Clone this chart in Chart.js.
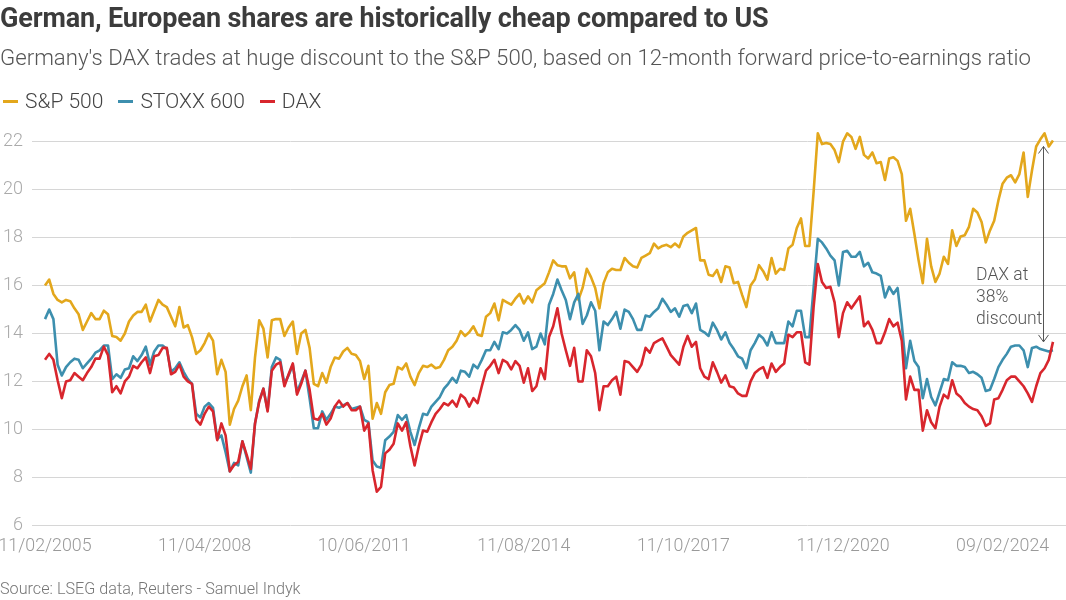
<!DOCTYPE html>
<html>
<head>
<meta charset="utf-8">
<title>German, European shares are historically cheap compared to US</title>
<script src="https://cdn.jsdelivr.net/npm/chart.js@4.4.1/dist/chart.umd.min.js"></script>
<style>
  body { margin: 0; background: #fff; font-family: Roboto, "Noto Sans", sans-serif; }
  #wrap { position: relative; width: 1066px; height: 600px; overflow: hidden; }
  #chartBox { position: absolute; left: 0; top: 0; width: 1066px; height: 600px; }
  .txt { position: absolute; left: 0; white-space: nowrap; }
  #title { top: 3px; font-size: 27px; line-height: 30px; font-weight: 700; color: #3c3c3c; letter-spacing: -0.15px; }
  #subtitle { top: 44px; font-size: 22.2px; line-height: 26px; font-weight: 300; color: #555; }
  #legend { top: 89px; left: 3px; font-size: 21px; line-height: 24px; font-weight: 300; color: #444; display: flex; align-items: center; }
  .item { display: flex; align-items: center; margin-right: 15px; }
  .mark { width: 15px; height: 3px; margin-right: 7px; }
  #source { top: 579px; font-size: 16.2px; line-height: 20px; font-weight: 300; color: #777; }
</style>
</head>
<body>
<div id="wrap">
  <div id="chartBox"><canvas id="peChart"></canvas></div>
  <div class="txt" id="title">German, European shares are historically cheap compared to US</div>
  <div class="txt" id="subtitle">Germany's DAX trades at huge discount to the S&amp;P 500, based on 12-month forward price-to-earnings ratio</div>
  <div class="txt" id="legend"></div>
  <div class="txt" id="source">Source: LSEG data, Reuters - Samuel Indyk</div>
</div>
<script>
// 12-month forward P/E, monthly, Feb 2005 - Feb 2025
const spx = [
  16.0, 16.25, 15.65, 15.4, 15.3, 15.4, 15.35, 15.05, 14.8, 14.15,
  14.5, 14.85, 14.6, 14.6, 14.95, 14.8, 13.9, 13.85, 13.7, 14.0,
  14.5, 14.75, 14.9, 14.9, 15.2, 14.5, 14.95, 15.4, 15.2, 15.1,
  14.7, 14.3, 15.1, 14.25, 14.35, 13.85, 13.15, 13.3, 13.6, 14.0,
  13.7, 12.3, 12.9, 12.4, 10.2, 10.85, 11.2, 11.8, 12.25, 10.8,
  13.0, 14.55, 14.2, 13.0, 14.55, 14.6, 14.6, 13.9, 14.25, 14.5,
  13.15, 14.0, 14.15, 13.4, 11.9, 11.8, 12.35, 11.95, 12.6, 13.0,
  12.95, 13.25, 13.4, 13.15, 13.1, 12.85, 12.1, 12.65, 10.45, 11.1,
  10.65, 11.55, 11.85, 11.9, 12.6, 12.5, 12.75, 12.2, 11.85, 12.35,
  12.65, 12.6, 12.7, 12.55, 12.6, 12.9, 13.3, 13.45, 13.7, 14.1,
  13.9, 14.05, 14.3, 13.95, 13.9, 14.7, 14.85, 15.25, 14.55, 15.4,
  15.3, 15.2, 15.45, 15.65, 15.25, 15.55, 15.3, 15.8, 15.95, 16.1,
  16.55, 17.05, 16.85, 16.8, 16.8, 16.3, 16.55, 15.4, 15.9, 16.7,
  16.35, 15.9, 15.05, 16.1, 16.55, 16.7, 16.65, 16.65, 17.15, 16.95,
  16.8, 16.75, 17.15, 17.25, 17.35, 17.75, 17.55, 17.65, 17.7, 17.6,
  17.75, 17.6, 18.05, 18.2, 18.3, 18.4, 17.05, 17.05, 16.45, 16.4,
  16.65, 16.15, 16.8, 16.75, 16.1, 16.15, 15.6, 15.1, 16.0, 16.25,
  16.85, 16.6, 16.25, 17.15, 16.5, 16.7, 16.65, 17.55, 17.7, 18.4,
  18.8, 17.65, 17.65, 19.9, 22.35, 21.9, 21.95, 21.9, 21.65, 21.15,
  22.0, 22.35, 22.2, 21.7, 22.2, 21.45, 21.3, 21.55, 21.1, 21.15,
  20.4, 21.3, 21.35, 21.2, 20.65, 18.7, 19.2, 18.15, 17.05, 16.1,
  17.95, 16.8, 16.15, 16.5, 17.2, 16.9, 18.3, 17.65, 18.05, 18.1,
  18.45, 19.2, 19.05, 18.65, 17.8, 18.3, 18.7, 19.55, 20.25, 20.5,
  20.6, 20.3, 20.65, 21.55, 19.7, 20.8, 21.8, 22.1, 22.35, 21.8, 22.05
];

const stoxx = [
  14.6, 15.0, 14.6, 12.7, 12.25, 12.6, 12.8, 12.95, 12.9, 12.55,
  12.75, 12.95, 13.2, 13.3, 13.5, 13.5, 12.1, 12.3, 12.15, 12.5,
  12.55, 13.05, 12.85, 13.1, 13.45, 12.7, 13.25, 13.5, 13.5, 13.35,
  12.4, 12.55, 12.8, 12.4, 12.1, 11.9, 10.65, 10.5, 10.95, 11.1,
  10.9, 9.6, 9.75, 9.05, 8.25, 8.6, 8.5, 9.5, 8.85, 8.2,
  10.25, 11.2, 11.7, 10.8, 12.6, 13.0, 12.9, 11.9, 12.25, 12.7,
  11.55, 12.0, 12.45, 11.3, 10.05, 10.05, 10.75, 10.4, 10.65, 10.95,
  10.9, 11.0, 11.1, 10.85, 10.9, 10.95, 10.4, 10.3, 8.7, 8.45,
  8.4, 9.55, 9.7, 9.9, 10.6, 10.4, 10.6, 9.9, 9.35, 10.05,
  10.65, 10.6, 10.95, 11.15, 11.35, 11.7, 11.9, 12.15, 11.95, 12.45,
  12.4, 12.2, 12.7, 12.55, 12.9, 13.3, 13.3, 13.65, 13.35, 14.05,
  14.0, 14.15, 14.35, 14.15, 13.7, 14.05, 13.35, 13.45, 14.0, 13.55,
  15.2, 15.65, 16.25, 15.8, 15.4, 14.6, 15.3, 15.65, 14.4, 14.75,
  15.3, 14.95, 13.3, 14.5, 14.35, 14.6, 14.9, 14.2, 15.0, 14.9,
  14.6, 14.15, 14.15, 14.75, 14.7, 14.9, 15.05, 15.45, 15.2, 14.9,
  15.05, 14.7, 15.15, 15.2, 14.85, 15.25, 14.15, 14.05, 13.9, 14.45,
  14.15, 13.75, 14.05, 13.6, 13.35, 13.05, 12.95, 12.55, 13.3, 13.6,
  13.95, 13.8, 13.5, 14.05, 13.6, 13.6, 13.6, 14.5, 14.3, 14.95,
  14.95, 13.85, 13.85, 15.9, 17.95, 17.8, 17.55, 17.25, 17.05, 16.0,
  17.4, 17.45, 17.2, 17.2, 17.4, 16.8, 16.95, 16.55, 16.5, 16.4,
  15.5, 15.95, 15.65, 15.9, 14.4, 12.55, 13.7, 12.85, 12.6, 11.3,
  12.1, 11.35, 11.0, 11.55, 12.1, 12.05, 12.8, 12.65, 12.65, 12.6,
  12.35, 12.4, 12.3, 12.15, 11.6, 11.65, 12.1, 12.6, 12.9, 13.15,
  13.45, 13.5, 13.5, 13.3, 12.6, 13.4, 13.45, 13.35, 13.3, 13.25, 13.3
];

const dax = [
  12.9, 13.15, 12.9, 12.05, 11.3, 12.0, 12.05, 12.35, 12.2, 12.05,
  12.35, 12.6, 12.95, 12.95, 13.45, 13.1, 11.55, 11.8, 11.5, 12.0,
  12.2, 12.65, 12.55, 12.8, 13.0, 12.35, 13.05, 13.1, 13.4, 13.4,
  12.3, 12.4, 12.7, 12.2, 12.0, 11.9, 10.4, 10.2, 10.65, 10.95,
  10.75, 9.55, 10.25, 9.75, 8.25, 8.5, 8.65, 9.5, 8.95, 8.35,
  10.25, 11.15, 11.7, 10.75, 12.45, 12.7, 12.8, 11.8, 12.3, 12.75,
  11.45, 11.9, 12.45, 11.65, 10.45, 10.4, 10.65, 10.2, 10.45, 10.95,
  11.2, 10.95, 11.1, 10.8, 10.8, 10.95, 9.95, 10.25, 8.3, 7.4,
  7.6, 9.0, 9.15, 9.4, 10.25, 9.95, 10.3, 9.3, 8.5, 9.3,
  9.95, 9.9, 10.3, 10.65, 10.85, 11.1, 11.0, 11.2, 10.95, 11.45,
  11.3, 10.95, 11.3, 11.1, 11.8, 12.45, 12.65, 12.9, 12.35, 12.9,
  12.8, 12.5, 12.85, 12.65, 11.95, 12.55, 11.6, 11.8, 12.55, 12.1,
  13.85, 14.3, 15.05, 14.0, 13.3, 12.65, 13.4, 12.0, 12.0, 13.3,
  13.05, 12.35, 10.8, 11.8, 11.8, 12.05, 12.2, 11.45, 12.85, 12.8,
  12.6, 12.4, 12.7, 13.4, 13.2, 13.6, 13.7, 13.8, 13.45, 13.1,
  12.9, 12.7, 13.45, 13.9, 13.45, 13.65, 12.55, 12.2, 12.1, 12.8,
  12.4, 11.95, 12.25, 11.8, 11.75, 11.5, 11.4, 11.4, 12.0, 12.35,
  12.5, 12.6, 12.15, 12.75, 12.4, 12.6, 12.75, 13.95, 13.85, 14.05,
  14.05, 12.8, 12.7, 15.1, 16.9, 16.15, 15.9, 15.95, 15.3, 13.85,
  14.85, 15.3, 15.05, 15.3, 15.55, 14.3, 14.5, 14.15, 13.6, 13.6,
  14.05, 14.6, 14.3, 14.45, 13.7, 11.25, 12.2, 11.65, 11.65, 9.95,
  10.8, 10.3, 10.05, 10.95, 11.45, 11.3, 12.05, 11.5, 11.35, 11.1,
  10.95, 10.85, 10.8, 10.55, 10.15, 10.25, 11.25, 11.3, 11.65, 12.05,
  12.2, 12.2, 12.0, 11.8, 11.5, 11.15, 11.8, 12.35, 12.55, 12.9, 13.65
];

const tickLabels = ["11/02/2005", "11/04/2008", "10/06/2011", "11/08/2014", "11/10/2017", "11/12/2020", "09/02/2024"];
const tickStep = 38; // one label every 38 months
const yTicks = [6, 8, 10, 12, 14, 16, 18, 20, 22];

const seriesNames = ["S&P 500", "STOXX 600", "DAX"];
const seriesColors = ["#e3a71c", "#3d8fae", "#d8262d"];

// discount annotation (data units)
const arrowAt = { x: 237.7, top: 21.8, bottom: 13.65 };
const noteAt = { x: 221.7, y: 16.43 };
const noteLines = ["DAX at", "38%", "discount"];

const idx = spx.map((_, i) => i);
const tickIdx = tickLabels.map((_, i) => i * tickStep);

// html legend
const legendEl = document.getElementById("legend");
seriesNames.forEach((name, i) => {
  const item = document.createElement("span");
  item.className = "item";
  const mark = document.createElement("span");
  mark.className = "mark";
  mark.style.background = seriesColors[i];
  item.appendChild(mark);
  item.appendChild(document.createTextNode(name));
  legendEl.appendChild(item);
});

const discountArrow = {
  id: "discountArrow",
  afterDatasetsDraw(chart) {
    const { ctx, scales: { x, y } } = chart;
    const px = Math.round(x.getPixelForValue(arrowAt.x)) + 0.5;
    const top = y.getPixelForValue(arrowAt.top);
    const bottom = y.getPixelForValue(arrowAt.bottom);
    ctx.save();
    ctx.strokeStyle = "#555";
    ctx.lineWidth = 1;
    ctx.beginPath();
    ctx.moveTo(px, top);
    ctx.lineTo(px, bottom);
    ctx.moveTo(px - 5, top + 7);
    ctx.lineTo(px, top);
    ctx.lineTo(px + 5, top + 7);
    ctx.moveTo(px - 5, bottom - 7);
    ctx.lineTo(px, bottom);
    ctx.lineTo(px + 5, bottom - 7);
    ctx.stroke();

    ctx.fillStyle = "#555";
    ctx.font = "300 17.5px Roboto";
    ctx.textBaseline = "middle";
    const lx = x.getPixelForValue(noteAt.x);
    const ly = y.getPixelForValue(noteAt.y);
    noteLines.forEach((t, i) => ctx.fillText(t, lx, ly + i * 22));
    ctx.restore();
  }
};

const ctx = document.getElementById("peChart");
new Chart(ctx, {
  type: "line",
  data: {
    labels: idx,
    datasets: [
      { label: seriesNames[0], data: spx, borderColor: seriesColors[0], backgroundColor: seriesColors[0], order: 2 },
      { label: seriesNames[1], data: stoxx, borderColor: seriesColors[1], backgroundColor: seriesColors[1], order: 1 },
      { label: seriesNames[2], data: dax, borderColor: seriesColors[2], backgroundColor: seriesColors[2], order: 0 }
    ]
  },
  options: {
    responsive: true,
    maintainAspectRatio: false,
    animation: false,
    layout: {
      padding: { top: 129.7, bottom: 44.7, left: 0, right: 0 }
    },
    elements: {
      point: { radius: 0 },
      line: { tension: 0, borderWidth: 2.6, borderJoinStyle: "round" }
    },
    scales: {
      x: {
        type: "linear",
        min: -3.1,
        max: 243.1,
        grid: { display: false },
        border: { display: false },
        afterBuildTicks: scale => {
          scale.ticks = tickIdx.map(v => ({ value: v }));
        },
        afterFit: scale => {
          scale.height = 30;
          // let the first label hang over the y-axis instead of shrinking the plot
          scale.paddingLeft = 0;
          scale.paddingRight = 0;
        },
        ticks: {
          padding: 3,
          maxRotation: 0,
          autoSkip: false,
          color: "#9a9a9a",
          font: { family: "Roboto", size: 17.8, weight: 300 },
          callback: (value, index) => tickLabels[index]
        }
      },
      y: {
        min: 6,
        max: 22.5,
        afterBuildTicks: scale => {
          scale.ticks = yTicks.map(v => ({ value: v }));
        },
        afterFit: scale => {
          scale.width = 32;
          scale.paddingTop = 0;
          scale.paddingBottom = 0;
        },
        grid: { color: "#d6d6d6", lineWidth: 1, drawTicks: false },
        border: { display: false },
        ticks: {
          padding: 9,
          color: "#aaa",
          font: { family: "Roboto", size: 18, weight: 300 }
        }
      }
    },
    plugins: {
      legend: { display: false },
      tooltip: { enabled: false }
    }
  },
  plugins: [discountArrow]
});
</script>
</body>
</html>
